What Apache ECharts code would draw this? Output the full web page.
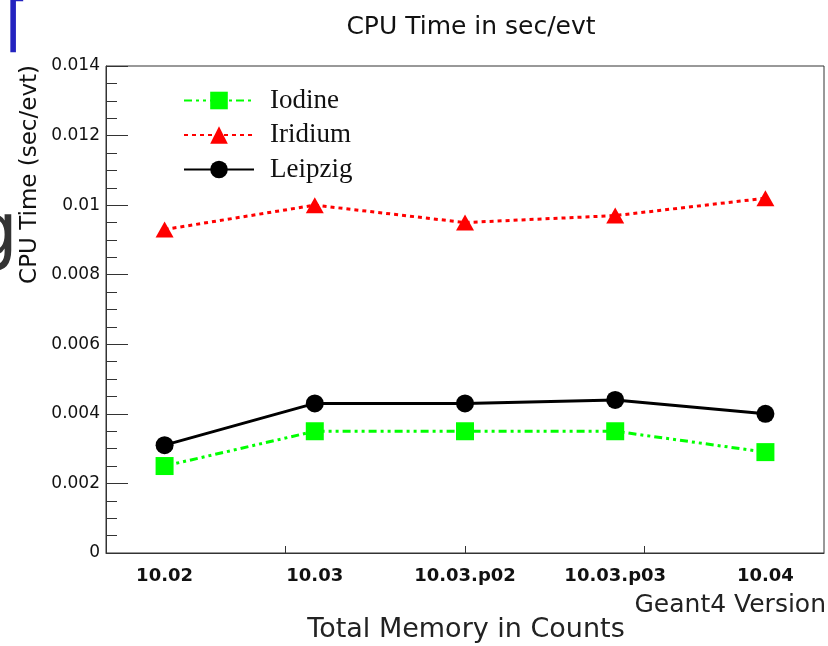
<!DOCTYPE html>
<html>
<head>
<meta charset="utf-8">
<title>CPU Time in sec/evt</title>
<script src="https://cdn.jsdelivr.net/npm/echarts@6/dist/echarts.min.js"></script>
<style>
  html, body { margin: 0; padding: 0; background: #fff; }
  #main { width: 828px; height: 646px; }
</style>
</head>
<body>
<div id="main"></div>
<script>
// Geant4 versions on the x axis
var versions = ['10.02', '10.03', '10.03.p02', '10.03.p03', '10.04'];
// cpu time per event (sec/evt)
var iodine  = [0.0025, 0.0035, 0.0035, 0.0035, 0.0029];
var iridium = [0.0093, 0.0100, 0.0095, 0.0097, 0.0102];
var leipzig = [0.0031, 0.0043, 0.0043, 0.0044, 0.0040];
var yTicks  = [0, 0.002, 0.004, 0.006, 0.008, 0.01, 0.012, 0.014];

var xMin = -0.39, xMax = 4.39;

function pairs(arr) {
  return arr.map(function (v, i) { return [i, v]; });
}

var sans = '"DejaVu Sans", Verdana, sans-serif';
var serif = '"Liberation Serif", "Times New Roman", serif';

var chart = echarts.init(document.getElementById('main'), null, { renderer: 'canvas' });

var option = {
  backgroundColor: '#fff',
  animation: false,
  title: {
    text: 'CPU Time in sec/evt',
    left: 466,
    textAlign: 'center',
    top: 10,
    textStyle: { fontFamily: sans, fontSize: 25, fontWeight: 'normal', color: '#111' }
  },
  legend: {
    orient: 'vertical',
    left: 183,
    top: 87,
    padding: 0,
    itemWidth: 70,
    itemHeight: 22,
    itemGap: 7.5,
    textStyle: { fontFamily: serif, fontSize: 27, color: '#111', padding: [0, 0, 0, 11] },
    data: ['Iodine', 'Iridium', 'Leipzig']
  },
  grid: {
    left: 106,
    right: 4,
    top: 66,
    bottom: 93,
    show: true,
    borderColor: '#333',
    borderWidth: 1,
    backgroundColor: 'transparent'
  },
  xAxis: {
    type: 'value',
    min: xMin,
    max: xMax,
    axisLine: { onZero: false, lineStyle: { color: '#333', width: 1 } },
    axisTick: {
      inside: true,
      length: 7,
      lineStyle: { color: '#333' },
      customValues: [1, 2, 3].map(function (k) { return xMin + (xMax - xMin) * k / 4; })
    },
    axisLabel: {
      customValues: versions.map(function (v, i) { return i; }),
      formatter: function (v) { return versions[Math.round(v)]; },
      margin: 14,
      fontFamily: sans,
      fontSize: 18,
      fontWeight: 'bold',
      color: '#111'
    },
    splitLine: { show: false }
  },
  yAxis: {
    type: 'value',
    min: yTicks[0],
    max: yTicks[yTicks.length - 1],
    interval: 0.002,
    axisLine: { show: true, onZero: false, lineStyle: { color: '#333', width: 1 } },
    axisTick: { inside: true, length: 22, lineStyle: { color: '#333' } },
    minorTick: { show: true, splitNumber: 4, length: 11, lineStyle: { color: '#333' } },
    axisLabel: {
      margin: 6,
      fontFamily: sans,
      fontSize: 17,
      color: '#111',
      formatter: function (v) { return String(+v.toFixed(3)); }
    },
    splitLine: { show: false }
  },
  series: [
    {
      name: 'Iodine',
      type: 'line',
      data: pairs(iodine),
      symbol: 'rect',
      symbolSize: 18,
      itemStyle: { color: '#00ff00' },
      lineStyle: { color: '#00ff00', width: 3, type: [8, 4, 3, 4, 3, 4] },
      z: 3
    },
    {
      name: 'Iridium',
      type: 'line',
      data: pairs(iridium),
      symbol: 'triangle',
      symbolSize: [18, 16],
      itemStyle: { color: '#ff0000' },
      lineStyle: { color: '#ff0000', width: 3, type: [4, 4] },
      z: 3
    },
    {
      name: 'Leipzig',
      type: 'line',
      data: pairs(leipzig),
      symbol: 'circle',
      symbolSize: 18,
      itemStyle: { color: '#000' },
      lineStyle: { color: '#000', width: 3 },
      z: 4
    }
  ],
  graphic: [
    {
      type: 'text',
      x: 30,
      y: 65,
      rotation: Math.PI / 2,
      style: {
        text: 'CPU Time (sec/evt)',
        font: '23px ' + sans,
        fill: '#111',
        align: 'right',
        verticalAlign: 'middle'
      }
    },
    {
      type: 'text',
      x: 826,
      y: 605,
      style: {
        text: 'Geant4 Version',
        font: '25px ' + sans,
        fill: '#222',
        align: 'right',
        verticalAlign: 'middle'
      }
    },
    {
      type: 'text',
      x: 466,
      y: 630,
      style: {
        text: 'Total Memory in Counts',
        font: '27px ' + sans,
        fill: '#222',
        align: 'center',
        verticalAlign: 'middle'
      }
    },
    {
      type: 'text',
      x: 18,
      y: 236,
      style: {
        text: 'g',
        font: '74px ' + sans,
        fill: '#333',
        align: 'right',
        verticalAlign: 'middle'
      }
    },
    {
      type: 'text',
      x: 5,
      y: 28,
      style: {
        text: '⌈',
        font: '62px ' + sans,
        fill: '#2323c0',
        align: 'left',
        verticalAlign: 'middle'
      }
    }
  ]
};

chart.setOption(option);
</script>
</body>
</html>
